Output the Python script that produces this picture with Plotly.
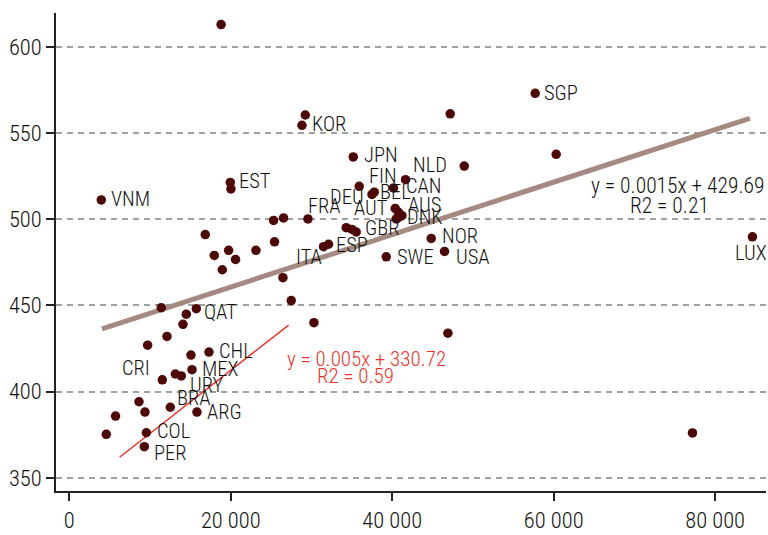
import plotly.graph_objects as go

# ---- data ----
gdp = [18800, 29230, 28820, 57710, 47180, 60310, 48920, 35170, 35910, 37490,
       37770, 40160, 41650, 40370, 40780, 40780, 40500, 41200, 34300, 35010,
       35540, 31490, 32110, 39260, 44830, 46480, 29560, 26540, 25300, 19940,
       20020, 16840, 17960, 19730, 20590, 23120, 25420, 18950, 26460, 27490,
       30300, 3960, 84620, 46900, 77190, 11390, 15730, 14490, 14080, 12100,
       9700, 15070, 17300, 15200, 13130, 13870, 11520, 12510, 8630, 9370,
       5730, 4580, 15810, 9540, 9290]
score = [613.0, 560.5, 554.5, 573.1, 561.2, 537.7, 530.9, 536.2, 519.1, 514.4,
         515.7, 518.2, 523.0, 506.3, 504.0, 501.1, 500.2, 502.1, 495.1, 494.1,
         492.6, 484.1, 485.5, 478.2, 488.9, 481.3, 500.2, 500.8, 499.3, 521.4,
         517.6, 491.1, 479.0, 482.0, 476.7, 482.0, 486.9, 470.7, 466.1, 452.8,
         440.0, 511.2, 489.8, 433.9, 376.0, 448.7, 448.1, 444.9, 439.0, 432.0,
         426.9, 421.2, 422.9, 412.7, 410.2, 409.1, 406.8, 390.9, 394.1, 388.1,
         385.8, 375.2, 388.1, 376.1, 368.0]
codes = ["", "", "KOR", "SGP", "", "", "", "JPN", "FIN", "DEU",
         "BEL", "CAN", "NLD", "AUT", "AUS", "", "", "DNK", "", "",
         "GBR", "ITA", "ESP", "SWE", "NOR", "USA", "FRA", "", "", "EST",
         "", "", "", "", "", "", "", "", "", "",
         "", "VNM", "LUX", "", "", "", "QAT", "", "", "",
         "", "", "CHL", "MEX", "", "URY", "CRI", "BRA", "", "",
         "", "", "ARG", "COL", "PER"]

trend_all_x = [4050, 84300]
trend_all_y = [436.4, 558.5]
trend_low_x = [6230, 27160]
trend_low_y = [361.9, 438.6]

eq_all = ["y = 0.0015x + 429.69", "R2 = 0.21"]
eq_low = ["y = 0.005x + 330.72", "R2 = 0.59"]

x_ticks = [0, 20000, 40000, 60000, 80000]
y_ticks = [350, 400, 450, 500, 550, 600]

# ---- label placement (pixel offsets: anchor, dx, dy) ----
label_pos = {
    "KOR": ("left", 8, -1), "SGP": ("left", 7, 0), "JPN": ("left", 9, -2),
    "FIN": ("left", 8, -10), "DEU": ("right", -6, 3), "BEL": ("left", 4, 0),
    "CAN": ("left", 10, -2), "NLD": ("left", 5, -15), "AUT": ("right", -5, 0),
    "AUS": ("left", 7, -7), "DNK": ("left", 3, 1), "GBR": ("left", 7, -4),
    "ITA": ("right", 0, 10), "ESP": ("left", 5, 1), "SWE": ("left", 9, 0),
    "NOR": ("left", 9, -2), "USA": ("left", 9, 6), "FRA": ("left", -2, -13),
    "EST": ("left", 7, -1), "VNM": ("left", 8, -1), "LUX": ("center", -1, 16),
    "QAT": ("left", 6, 3), "CHL": ("left", 8, -1), "MEX": ("left", 8, -1),
    "URY": ("left", 7, 9), "CRI": ("right", -10, -12), "BRA": ("left", 5, -9),
    "ARG": ("left", 8, 0), "COL": ("left", 9, -2), "PER": ("left", 8, 6),
}

FONT = "Roboto Condensed, Roboto, sans-serif"
TXT = "#111111"
RED = "#e8352c"

fig = go.Figure()
fig.add_trace(go.Scatter(x=trend_all_x, y=trend_all_y, mode="lines",
                         line=dict(color="#a48a80", width=5), hoverinfo="skip"))
fig.add_trace(go.Scatter(x=trend_low_x, y=trend_low_y, mode="lines",
                         line=dict(color=RED, width=1.5), hoverinfo="skip"))
fig.add_trace(go.Scatter(x=gdp, y=score, mode="markers", text=codes,
                         marker=dict(color="#4d0707", size=9.5)))

annotations = []
for xv, yv, c in zip(gdp, score, codes):
    if not c:
        continue
    anchor, dx, dy = label_pos[c]
    annotations.append(dict(x=xv, y=yv, text=c, showarrow=False,
                            xanchor=anchor, yanchor="middle",
                            xshift=dx, yshift=-dy,
                            font=dict(family=FONT, size=20.5, color=TXT, weight=300)))

annotations += [
    dict(x=75300, y=519.7, text=eq_all[0], showarrow=False, xanchor="center", yanchor="middle",
         font=dict(family=FONT, size=21.5, color=TXT, weight=300)),
    dict(x=74400, y=507.8, text=eq_all[1], showarrow=False, xanchor="center", yanchor="middle",
         font=dict(family=FONT, size=21.5, color=TXT, weight=300)),
    dict(x=36800, y=419.1, text=eq_low[0], showarrow=False, xanchor="center", yanchor="middle",
         font=dict(family=FONT, size=21, color=RED, weight=300)),
    dict(x=35500, y=408.9, text=eq_low[1], showarrow=False, xanchor="center", yanchor="middle",
         font=dict(family=FONT, size=21, color=RED, weight=300)),
]

fig.update_layout(
    width=768, height=535,
    margin=dict(l=56, r=2, t=13, b=34),
    paper_bgcolor="white", plot_bgcolor="white",
    showlegend=False,
    separators=". ",
    font=dict(family=FONT, size=22.5, color=TXT, weight=300),
    annotations=annotations,
    xaxis=dict(range=[-1650, 86300], tickvals=x_ticks, tickformat=",d",
               showgrid=False, zeroline=False, showline=True, linecolor="#222222",
               linewidth=1.5, ticks="outside", ticklen=8, tickwidth=1.5, tickcolor="#222222"),
    yaxis=dict(range=[342.3, 619.7], tickvals=y_ticks,
               showgrid=True, gridcolor="#a0a0a0", gridwidth=1.5, griddash="6px,5px",
               zeroline=False, showline=True, linecolor="#222222",
               linewidth=1.5, ticks="outside", ticklen=8, tickwidth=1.5, tickcolor="#222222"),
)

fig.write_html("out.html", config={"displayModeBar": False},
               post_script="document.body.style.margin='0px';")
